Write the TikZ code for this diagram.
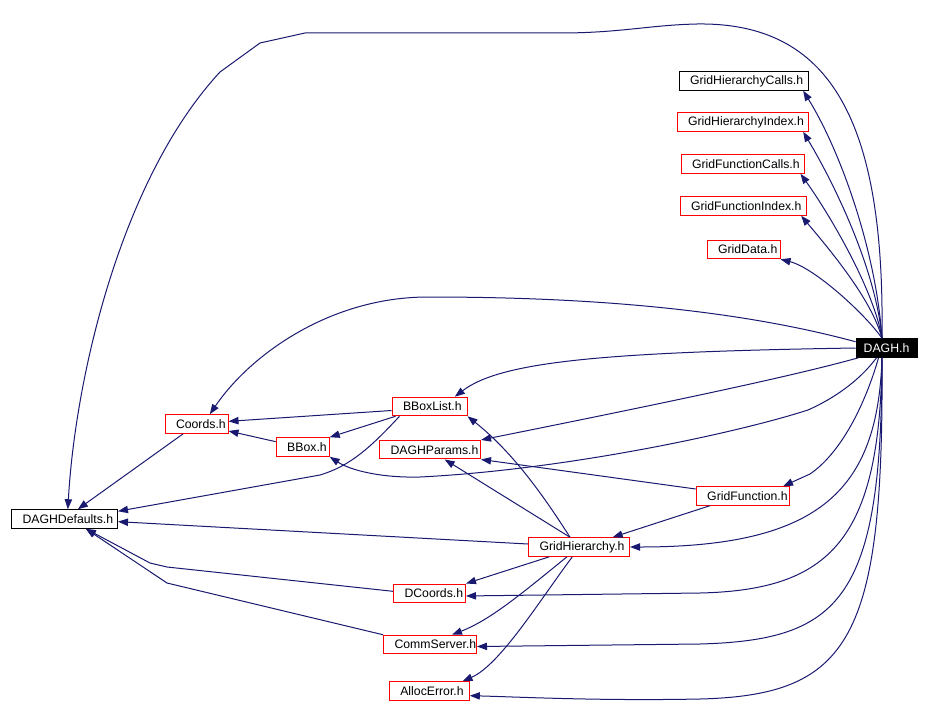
\documentclass[tikz,border=0pt]{standalone}
\usepackage{fontspec}
\setmainfont{Liberation Sans}
\usetikzlibrary{arrows.meta}
\definecolor{edgeblue}{HTML}{191970}
\definecolor{boxred}{HTML}{FF0000}
\newcommand{\lbltext}[2]{\makebox[#1][l]{\hspace*{8.25pt}#2}}
\begin{document}
\begin{tikzpicture}[x=0.75pt,y=-0.75pt,
  hbox/.style={draw=boxred, line width=0.75pt, minimum height=13.9pt, inner sep=0pt, font=\fontsize{9.2}{10}\selectfont},
  blkbox/.style={hbox, draw=black},
  edge/.style={draw=edgeblue, line width=0.75pt, -{Triangle[length=7.5pt,width=5.5pt]}}]
\useasboundingbox (0,0) rectangle (930,710);
% nodes
\node[blkbox] (ghc) at (743.5,81) {\lbltext{96.75pt}{GridHierarchyCalls.h}};
\node[hbox] (ghi) at (742.5,122) {\lbltext{98.25pt}{GridHierarchyIndex.h}};
\node[hbox] (gfc) at (742.5,164) {\lbltext{92.25pt}{GridFunctionCalls.h}};
\node[hbox] (gfi) at (743,206) {\lbltext{94.5pt}{GridFunctionIndex.h}};
\node[hbox] (gd) at (743.5,249.5) {\lbltext{54.75pt}{GridData.h}};
\node[blkbox, fill=black, text=white, minimum width=45.75pt] (dagh) at (886.5,348) {DAGH.h};
\node[hbox] (coords) at (196.5,424) {\lbltext{47.25pt}{Coords.h}};
\node[hbox] (bboxlist) at (429.5,406.5) {\lbltext{56.25pt}{BBoxList.h}};
\node[hbox] (bboxn) at (302.7,447) {\lbltext{39.75pt}{BBox.h}};
\node[hbox] (params) at (430,449.7) {\lbltext{75.75pt}{DAGHParams.h}};
\node[blkbox] (defaults) at (64.5,519) {\lbltext{79.5pt}{DAGHDefaults.h}};
\node[hbox] (gf) at (742.7,496) {\lbltext{69.75pt}{GridFunction.h}};
\node[hbox] (gh) at (579,547) {\lbltext{75.75pt}{GridHierarchy.h}};
\node[hbox] (dcoords) at (429.5,593.3) {\lbltext{54pt}{DCoords.h}};
\node[hbox] (comm) at (430,644.5) {\lbltext{69.75pt}{CommServer.h}};
\node[hbox] (alloc) at (429.3,691) {\lbltext{60pt}{AllocError.h}};
% anchor points on DAGH.h
\coordinate (dt) at ([xshift=-3.4pt]dagh.north);
\coordinate (db) at ([xshift=-3.4pt]dagh.south);
\coordinate (dbf) at ([xshift=-6pt]dagh.south);
% edges from DAGH.h
\draw[edge] (dt) .. controls (876,250) and (840,150) .. ([xshift=-4pt]ghc.south east);
\draw[edge] (dt) .. controls (876,270) and (835,185) .. ([xshift=-4pt]ghi.south east);
\draw[edge] (dt) .. controls (874,290) and (830,215) .. ([xshift=-3pt]gfc.south east);
\draw[edge] (dt) .. controls (872,300) and (830,250) .. ([xshift=-4pt]gfi.south east);
\draw[edge] (dt) .. controls (866,315) and (815,268) .. (gd.south east);
\draw[edge] (dt) .. controls (885,120) and (830,22) .. (697,24) .. controls (650,25) and (620,33) .. (560,33) -- (305,33) -- (260,43) -- (220,72) .. controls (120,180) and (75,380) .. ([xshift=2.5pt]defaults.north);
\draw[edge] ([yshift=4.7pt]dagh.west) .. controls (720,305) and (560,297) .. (428,297) .. controls (330,297) and (250,355) .. ([xshift=10pt]coords.north);
\draw[edge] (dagh.west) .. controls (600,352) and (500,362) .. ([xshift=19pt]bboxlist.north);
\draw[edge] ([xshift=2.25pt]dagh.south west) .. controls (800,374) and (700,396) .. (params.north east);
\draw[edge] ([xshift=-7.5pt]dagh.south) .. controls (860,380) and (835,398) .. (808,410) .. controls (730,435) and (560,470) .. (420,477) .. controls (380,478) and (350,470) .. (bboxn.south east);
\draw[edge] (dbf) .. controls (868,395) and (845,450) .. (810,474) -- ([xshift=-5pt]gf.north east);
\draw[edge] (db) .. controls (878,490) and (820,547) .. (gh.east);
\draw[edge] (db) .. controls (880,540) and (830,590) .. (700,593) -- ([yshift=-2pt]dcoords.east);
\draw[edge] (db) .. controls (882,600) and (840,640) .. (700,644) -- ([yshift=-1.5pt]comm.east);
\draw[edge] (db) .. controls (884,640) and (850,695) .. (700,699) .. controls (600,701) and (520,697) .. ([yshift=-3.5pt]alloc.east);
% edges from GridHierarchy.h
\coordinate (ghtop) at ([xshift=-6.75pt]gh.north);
\draw[edge] (ghtop) .. controls (540,490) and (510,450) .. (bboxlist.south east);
\draw[edge] (ghtop) -- ([xshift=11pt]params.south);
\draw[edge] ([yshift=2.25pt]gh.west) -- ([yshift=-2pt]defaults.east);
\draw[edge] ([xshift=16pt]gh.south west) -- (dcoords.north east);
\draw[edge] ([xshift=-9pt]gh.south) .. controls (520,595) and (490,620) .. ([xshift=-18.75pt]comm.north east);
\draw[edge] ([xshift=-5pt]gh.south) .. controls (540,600) and (500,665) .. ([xshift=-5.5pt]alloc.north east);
% edges from GridFunction.h
\draw[edge] ([xshift=10.5pt]gf.south west) -- ([xshift=-13pt]gh.north east);
\draw[edge] ([yshift=5.25pt]gf.west) -- (params.south east);
% edges from BBoxList.h
\draw[edge] ([yshift=-3pt]bboxlist.west) -- ([yshift=2pt]coords.east);
\draw[edge] ([xshift=3pt]bboxlist.south west) -- (bboxn.north east);
\draw[edge] ([xshift=6pt]bboxlist.south west) .. controls (370,448) and (350,466) .. (320,475) -- ([yshift=-1.5pt]defaults.north east);
% other edges
\draw[edge] ([yshift=4pt]bboxn.west) -- ([yshift=-5.25pt]coords.east);
\draw[edge] ([xshift=-10pt]coords.south) -- ([xshift=10pt]defaults.north);
\draw[edge] ([yshift=1.5pt]dcoords.west) -- (167,567) -- (150,563) -- ([xshift=16pt]defaults.south);
\draw[edge] (comm.north west) -- (167,583) -- ([xshift=16pt]defaults.south);
\end{tikzpicture}
\end{document}
